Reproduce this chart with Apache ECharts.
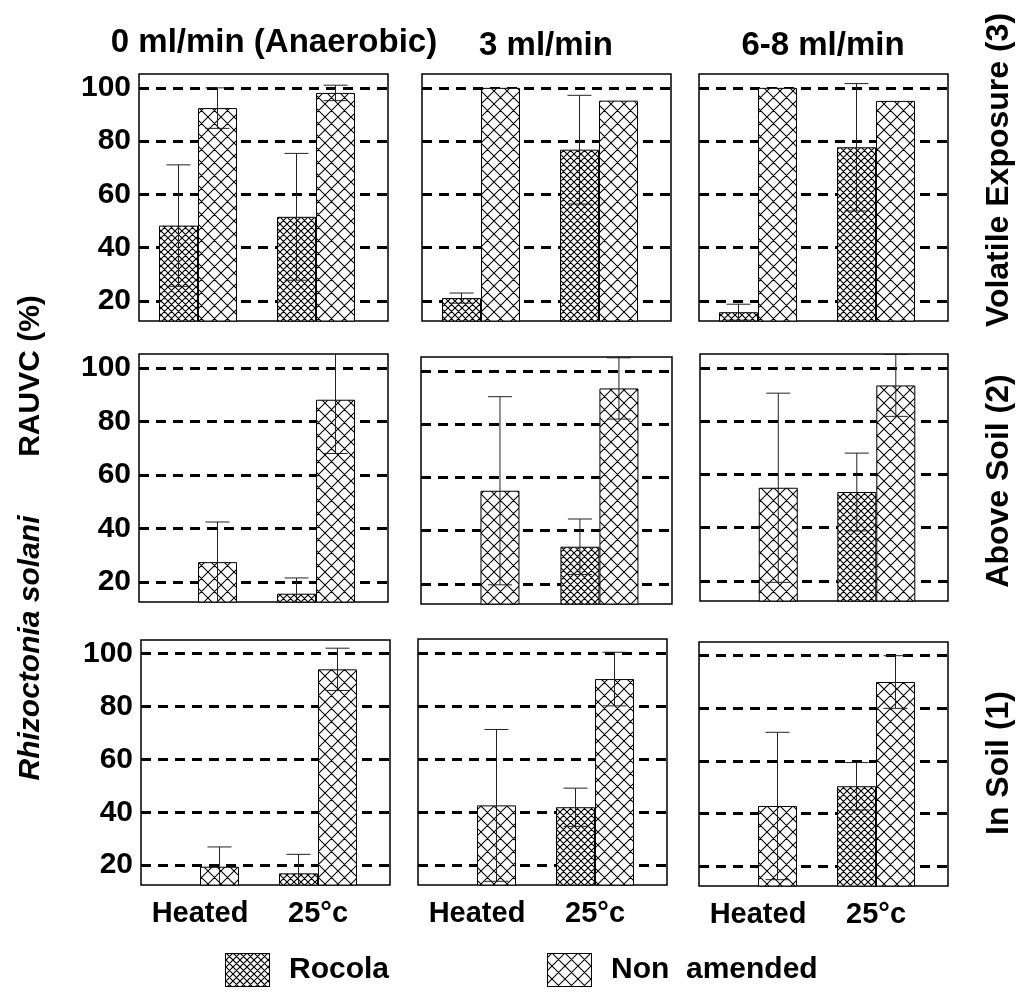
<!DOCTYPE html>
<html>
<head>
<meta charset="utf-8">
<script src="https://cdn.jsdelivr.net/npm/echarts@6/dist/echarts.min.js"></script>
<style>
  html, body { margin: 0; padding: 0; background: #fff; }
  #chart { width: 1018px; height: 992px; }
</style>
</head>
<body>
<div id="chart"></div>
<script>
// ---- data -------------------------------------------------------------
const categories = ['Heated', '25°c'];
const flowRates = ['0 ml/min (Anaerobic)', '3 ml/min', '6-8 ml/min'];
const exposures = ['Volatile Exposure (3)', 'Above Soil (2)', 'In Soil (1)'];
const seriesNames = ['Rocola', 'Non  amended'];
const yTicks = [20, 40, 60, 80, 100];

// Each row: one [Heated, 25°c] pair per flow rate (0, 3, 6-8 ml/min)
const volatileRocola    = [[48.3, 51.6], [21.1, 76.8], [15.8, 77.7]];
const volatileRocolaErr = [[22.8, 23.8], [1.9, 20.4], [3.0, 23.9]];
const volatileNon       = [[92.4, 98.1], [100, 95.2], [100, 95.1]];
const volatileNonErr    = [[7.6, 2.9], [0, 0], [0, 0]];

const aboveRocola    = [[0, 15.6], [0, 34.0], [0, 53.4]];
const aboveRocolaErr = [[0, 5.9], [0, 10.4], [0, 14.6]];
const aboveNon       = [[27.4, 88.1], [55.0, 93.4], [55.0, 93.4]];
const aboveNonErr    = [[15.0, 20.1], [35.3, 11.5], [35.5, 11.6]];

const soilRocola    = [[0, 16.9], [0, 41.8], [0, 50.4]];
const soilRocolaErr = [[0, 7.2], [0, 7.2], [0, 9.0]];
const soilNon       = [[19.4, 94.1], [42.5, 90.1], [42.9, 90.0]];
const soilNonErr    = [[7.5, 8.0], [28.6, 10.1], [28.0, 10.0]];

// ---- layout -----------------------------------------------------------
const rows = [
  { rocola: volatileRocola, rocolaErr: volatileRocolaErr, non: volatileNon, nonErr: volatileNonErr },
  { rocola: aboveRocola, rocolaErr: aboveRocolaErr, non: aboveNon, nonErr: aboveNonErr },
  { rocola: soilRocola, rocolaErr: soilRocolaErr, non: soilNon, nonErr: soilNonErr }
];
// panel frames [left, top, right, bottom]
const frames = [
  [[139, 74, 388, 321], [422, 74, 671, 321], [699, 74, 948, 321]],
  [[139, 354, 388, 602], [421, 357, 672, 604], [700, 354, 948, 601]],
  [[141, 640, 390, 885], [418, 639, 667, 885], [699, 642, 948, 886]]
];
const FONT = '"Liberation Sans", Arial, sans-serif';
const BAR_W = 39;
const CAP = 12;

// diagonal cross-hatch on a canvas
function drawHatch(g, w, h, step, width) {
  g.fillStyle = '#fff';
  g.fillRect(0, 0, w, h);
  g.strokeStyle = '#000';
  g.lineWidth = width;
  g.beginPath();
  for (let k = -h - step; k <= w + h + step; k += step) {
    g.moveTo(k - 1, -1); g.lineTo(k + h + 1, h + 1);
    g.moveTo(k + 1, -1); g.lineTo(k - h - 1, h + 1);
  }
  g.stroke();
}
function hatchTile(step, width) {
  const c = document.createElement('canvas');
  c.width = step; c.height = step;
  drawHatch(c.getContext('2d'), step, step, step, width);
  return c;
}
function hatchSwatch(w, h, step, width) {
  const c = document.createElement('canvas');
  c.width = w; c.height = h;
  const g = c.getContext('2d');
  drawHatch(g, w, h, step, width);
  g.strokeStyle = '#000';
  g.lineWidth = 1;
  g.strokeRect(0.5, 0.5, w - 1, h - 1);
  return 'image://' + c.toDataURL();
}
const denseFill = { image: hatchTile(7, 1.15), repeat: 'repeat' };
const sparseFill = { image: hatchTile(13, 1.05), repeat: 'repeat' };

function errorRenderer(params, api) {
  const err = api.value(2);
  if (!err) return null;
  const x = api.value(0), m = api.value(1), side = api.value(3);
  const cs = params.coordSys;
  const top = api.coord([x, m + err]);
  const bot = api.coord([x, m - err]);
  const cx = top[0] + side * BAR_W / 2;
  const yMin = cs.y, yMax = cs.y + cs.height;
  const y1 = Math.max(top[1], yMin), y2 = Math.min(bot[1], yMax);
  const style = { stroke: '#222', lineWidth: 1 };
  const children = [{ type: 'line', shape: { x1: cx, y1: y1, x2: cx, y2: y2 }, style }];
  if (top[1] >= yMin) children.push({ type: 'line', shape: { x1: cx - CAP, y1: top[1], x2: cx + CAP, y2: top[1] }, style });
  if (bot[1] <= yMax) children.push({ type: 'line', shape: { x1: cx - CAP, y1: bot[1], x2: cx + CAP, y2: bot[1] }, style });
  return { type: 'group', children };
}

const grid = [], xAxis = [], yAxis = [], series = [];
rows.forEach((row, r) => {
  flowRates.forEach((flow, c) => {
    const i = r * 3 + c;
    const [l, t, rt, b] = frames[r][c];
    grid.push({
      left: l, top: t, width: rt - l, height: b - t,
      show: true, borderColor: '#000', borderWidth: 1.5,
      backgroundColor: 'transparent', containLabel: false, outerBoundsMode: 'none'
    });
    xAxis.push({
      type: 'value', gridIndex: i, min: -0.5, max: 1.61, interval: 0.5,
      axisLine: { show: false }, axisTick: { show: false }, splitLine: { show: false },
      axisLabel: {
        show: r === 2, margin: 14, color: '#000', fontSize: 29, fontWeight: 'bold', fontFamily: FONT,
        showMinLabel: false, showMaxLabel: false,
        formatter: v => (Number.isInteger(v) && categories[v]) ? categories[v] : ''
      }
    });
    yAxis.push({
      type: 'value', gridIndex: i, min: 12.5, max: 105.2, splitNumber: 5,
      axisLine: { show: false }, axisTick: { show: false },
      axisLabel: {
        show: c === 0, margin: 8, color: '#000', fontSize: 30, fontWeight: 'bold', fontFamily: FONT,
        showMinLabel: false, showMaxLabel: false,
        formatter: v => yTicks.includes(v) ? String(v) : ''
      },
      splitLine: {
        show: true, showMinLine: false, showMaxLine: false,
        lineStyle: { color: '#000', width: 3, type: [10, 7] }
      }
    });
    const groups = [
      { name: seriesNames[0], mean: row.rocola[c], err: row.rocolaErr[c], fill: denseFill, side: -1 },
      { name: seriesNames[1], mean: row.non[c], err: row.nonErr[c], fill: sparseFill, side: 1 }
    ];
    groups.forEach(g => {
      series.push({
        type: 'bar', name: g.name, xAxisIndex: i, yAxisIndex: i,
        barWidth: BAR_W, barGap: '0%', clip: true, silent: true,
        itemStyle: { color: g.fill, borderColor: '#000', borderWidth: 1 },
        data: g.mean.map((v, k) => [k, v])
      });
    });
    groups.forEach(g => {
      series.push({
        type: 'custom', xAxisIndex: i, yAxisIndex: i, z: 5, silent: true,
        renderItem: errorRenderer,
        data: g.mean.map((v, k) => [k, v, g.err[k], g.side])
      });
    });
  });
});

const titleFont = 'bold 33px ' + FONT;
const graphic = [];
const titleCenters = [[274, 43], [546, 46], [823, 46]];
flowRates.forEach((f, c) => {
  graphic.push({ type: 'text', x: titleCenters[c][0], y: titleCenters[c][1],
    style: { text: f, font: titleFont, fill: '#000', textAlign: 'center', textVerticalAlign: 'middle' } });
});
const rowCenters = [170, 481, 763];
exposures.forEach((e, r) => {
  graphic.push({ type: 'text', x: 999, y: rowCenters[r], rotation: Math.PI / 2,
    style: { text: e, font: 'bold 32px ' + FONT, fill: '#000', textAlign: 'center', textVerticalAlign: 'middle' } });
});
graphic.push({ type: 'text', x: 31, y: 648, rotation: Math.PI / 2,
  style: { text: 'Rhizoctonia solani', font: 'italic bold 30px ' + FONT, fill: '#000', textAlign: 'center', textVerticalAlign: 'middle' } });
graphic.push({ type: 'text', x: 31, y: 376, rotation: Math.PI / 2,
  style: { text: 'RAUVC (%)', font: 'bold 30px ' + FONT, fill: '#000', textAlign: 'center', textVerticalAlign: 'middle' } });

const legendBase = {
  orient: 'horizontal', top: 953, padding: 0,
  itemWidth: 45, itemHeight: 34, selectedMode: false,
  textStyle: { fontSize: 30, fontWeight: 'bold', color: '#000', fontFamily: FONT, padding: [0, 0, 0, 14] }
};

const chart = echarts.init(document.getElementById('chart'), null, { renderer: 'canvas' });
chart.setOption({
  animation: false,
  backgroundColor: '#fff',
  grid, xAxis, yAxis, series, graphic,
  legend: [
    Object.assign({}, legendBase, { left: 225, data: [{ name: seriesNames[0], icon: hatchSwatch(45, 34, 7, 1.15) }] }),
    Object.assign({}, legendBase, { left: 547, data: [{ name: seriesNames[1], icon: hatchSwatch(45, 34, 13, 1.05) }] })
  ]
});
</script>
</body>
</html>
